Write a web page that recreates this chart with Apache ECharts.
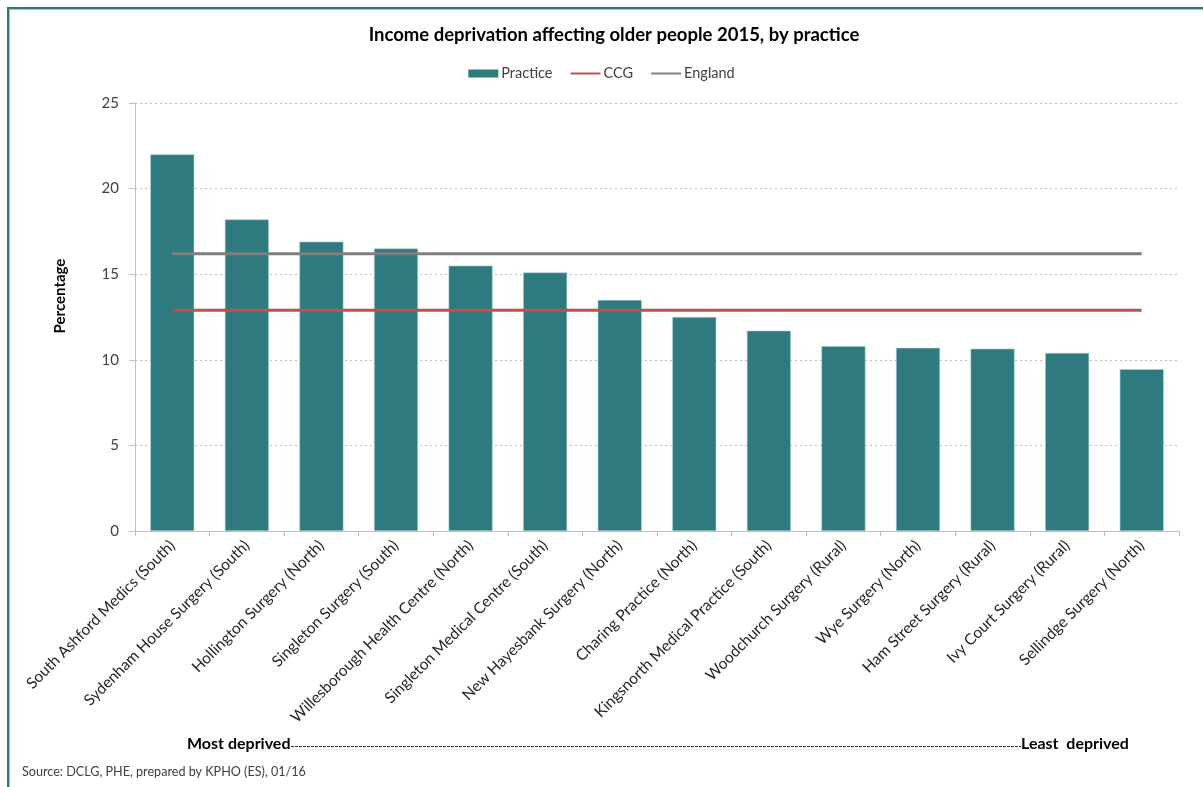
<!DOCTYPE html>
<html>
<head>
<meta charset="utf-8">
<script src="https://cdn.jsdelivr.net/npm/echarts@6/dist/echarts.min.js"></script>
<style>
  html, body { margin: 0; padding: 0; background: #fff; }
  #chart { width: 1203px; height: 787px; }
</style>
</head>
<body>
<div id="chart"></div>
<script>
// Practices, ordered from most to least deprived
const practices = [
  'South Ashford Medics (South)',
  'Sydenham House Surgery (South)',
  'Hollington Surgery (North)',
  'Singleton Surgery (South)',
  'Willesborough Health Centre (North)',
  'Singleton Medical Centre (South)',
  'New Hayesbank Surgery (North)',
  'Charing Practice (North)',
  'Kingsnorth Medical Practice (South)',
  'Woodchurch Surgery (Rural)',
  'Wye Surgery (North)',
  'Ham Street Surgery (Rural)',
  'Ivy Court Surgery (Rural)',
  'Sellindge Surgery (North)'
];

// Percentage of older people affected by income deprivation
const practiceValues = [22.0, 18.2, 16.9, 16.5, 15.5, 15.1, 13.5, 12.5, 11.7, 10.8, 10.7, 10.65, 10.4, 9.45];
const ccgValues      = [12.9, 12.9, 12.9, 12.9, 12.9, 12.9, 12.9, 12.9, 12.9, 12.9, 12.9, 12.9, 12.9, 12.9];
const englandValues  = [16.2, 16.2, 16.2, 16.2, 16.2, 16.2, 16.2, 16.2, 16.2, 16.2, 16.2, 16.2, 16.2, 16.2];

const yTicks = { min: 0, max: 25, interval: 5 };

const FONT = 'Lato, "Open Sans", sans-serif';
const TEAL = '#2e7a7e';
const RED = '#c0504d';
const GREY = '#808080';
const AXIS = '#c0c0c0';
const LINE_ICON = 'path://M0,0 L30,0 L30,2 L0,2 Z';

const chart = echarts.init(document.getElementById('chart'), null, { renderer: 'canvas' });

chart.setOption({
  backgroundColor: '#ffffff',
  animation: false,
  textStyle: { fontFamily: FONT },
  title: {
    text: 'Income deprivation affecting older people 2015, by practice',
    left: 609,
    textAlign: 'center',
    top: 21,
    textStyle: { fontFamily: FONT, fontSize: 18.5, fontWeight: 'bold', color: '#000' }
  },
  legend: {
    top: 61,
    left: 'center',
    itemGap: 18,
    itemWidth: 30,
    itemHeight: 8,
    textStyle: { fontFamily: FONT, fontSize: 14.5, color: '#404040', padding: [0, 0, 0, -2] },
    data: [
      { name: 'Practice', icon: 'rect', itemStyle: { color: TEAL, borderWidth: 0 } },
      { name: 'CCG', icon: LINE_ICON, itemStyle: { color: RED } },
      { name: 'England', icon: LINE_ICON, itemStyle: { color: GREY } }
    ]
  },
  grid: { left: 135, right: 24, top: 103, bottom: 256, containLabel: false },
  xAxis: {
    type: 'category',
    data: practices,
    boundaryGap: true,
    axisLine: { lineStyle: { color: AXIS, width: 1 } },
    axisTick: { show: true, alignWithLabel: false, length: 5, lineStyle: { color: AXIS } },
    axisLabel: {
      rotate: 45,
      interval: 0,
      margin: 12,
      fontFamily: FONT,
      fontSize: 15.5,
      color: '#262626'
    }
  },
  yAxis: {
    type: 'value',
    min: yTicks.min,
    max: yTicks.max,
    interval: yTicks.interval,
    axisLine: { show: true, lineStyle: { color: AXIS, width: 1 } },
    axisTick: { show: true, length: 6, lineStyle: { color: AXIS } },
    axisLabel: { fontFamily: FONT, fontSize: 15, color: '#404040', margin: 16 },
    splitLine: { show: true, lineStyle: { color: '#bdbdbd', type: [2, 3], width: 1 } }
  },
  series: [
    {
      name: 'Practice',
      type: 'bar',
      data: practiceValues,
      barWidth: '59%',
      itemStyle: { color: TEAL, borderColor: '#a9cfd0', borderWidth: 0.6 },
      z: 2
    },
    {
      name: 'CCG',
      type: 'line',
      data: ccgValues,
      symbol: 'none',
      lineStyle: { color: RED, width: 3 },
      itemStyle: { color: RED },
      z: 3
    },
    {
      name: 'England',
      type: 'line',
      data: englandValues,
      symbol: 'none',
      lineStyle: { color: GREY, width: 3 },
      itemStyle: { color: GREY },
      z: 3
    }
  ],
  graphic: [
    // frame edges along the top and left
    { type: 'rect', left: 7, top: 7, shape: { width: 1196, height: 2 }, style: { fill: '#2e7a7e' }, silent: true },
    { type: 'rect', left: 7, top: 9, shape: { width: 1196, height: 1 }, style: { fill: '#9cc7c9' }, silent: true },
    { type: 'rect', left: 7, top: 7, shape: { width: 2, height: 780 }, style: { fill: '#2e7a7e' }, silent: true },
    { type: 'rect', left: 9, top: 9, shape: { width: 1, height: 778 }, style: { fill: '#9cc7c9' }, silent: true },
    // y-axis title
    {
      type: 'text', x: 60, y: 296, rotation: Math.PI / 2, silent: true,
      style: {
        text: 'Percentage', fontFamily: FONT, fontSize: 15, fontWeight: 'bold', fill: '#000',
        textAlign: 'center', textVerticalAlign: 'middle'
      }
    },
    // deprivation scale beneath the axis labels
    {
      type: 'text', left: 187, top: 736,
      style: { text: 'Most deprived', fontFamily: FONT, fontSize: 16, fontWeight: 'bold', fill: '#000' }
    },
    {
      type: 'line', silent: true,
      shape: { x1: 291, y1: 746.5, x2: 1021, y2: 746.5 },
      style: { stroke: '#333', lineWidth: 1, lineDash: [3, 1] }
    },
    {
      type: 'text', left: 1021, top: 736,
      style: { text: 'Least  deprived', fontFamily: FONT, fontSize: 16, fontWeight: 'bold', fill: '#000' }
    },
    {
      type: 'text', left: 22, top: 765,
      style: { text: 'Source: DCLG, PHE, prepared by KPHO (ES), 01/16', fontFamily: FONT, fontSize: 12.6, fill: '#404040' }
    }
  ]
});
</script>
</body>
</html>
